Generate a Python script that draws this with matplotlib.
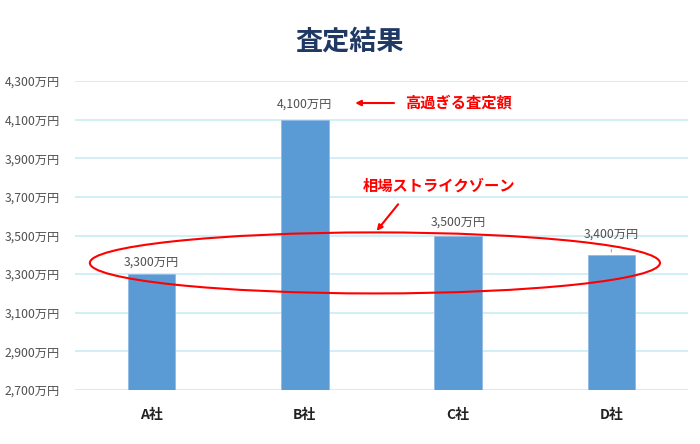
import matplotlib
matplotlib.use("Agg")
import matplotlib.pyplot as plt
from matplotlib.patches import Ellipse

plt.rcParams["font.family"] = ["Noto Sans CJK JP", "DejaVu Sans"]

companies = ["A社", "B社", "C社", "D社"]
values = [3300, 4100, 3500, 3400]
yticks = [2700, 2900, 3100, 3300, 3500, 3700, 3900, 4100, 4300]

BAR = "#5b9bd5"
GRID = "#c9ebf6"
GRAY = "#505050"
RED = "#ff0000"

def yen(v):
    return f"{v:,}万円"

fig = plt.figure(figsize=(7, 4.44), dpi=100)
ax = fig.add_axes([75/700, 1-390/444, 613/700, 309/444])

x = range(len(companies))
ax.bar(x, values, width=0.31, color=BAR, edgecolor="#8fbbe6", lw=0.6, zorder=2)
ax.set_xlim(-0.5, 3.5)
ax.set_ylim(2700, 4300)
ax.set_yticks(yticks)
ax.set_yticklabels([yen(v) for v in yticks], fontsize=8.8, color=GRAY)
ax.set_xticks(list(x))
ax.set_xticklabels(companies, fontsize=10, color="#222222", fontweight="bold")
ax.tick_params(length=0)
ax.tick_params(axis="x", pad=13)
ax.tick_params(axis="y", pad=11)
ax.grid(axis="y", color=GRID, lw=1.2, zorder=0)
for s in ax.spines.values():
    s.set_visible(False)

# data labels
offsets = [8.6, 11.5, 9.4, 15]
for i, v in enumerate(values):
    ax.annotate(yen(v), (i, v), xytext=(0, offsets[i]), textcoords="offset points",
                ha="center", va="center", fontsize=8.8, color=GRAY)
# leader line for D
ax.annotate("", (3, values[3]), xytext=(3, values[3] + 42),
            arrowprops=dict(arrowstyle="-", color="#a6a6a6", lw=0.8))

fig.text(0.5, 1-42/444, "査定結果", ha="center", va="center",
         fontsize=19.5, fontweight="bold", color="#1f3864")

# annotations
ell = Ellipse((1.457, 3358), 3.72, 316, fill=False, edgecolor=RED, lw=1.5,
              zorder=3, clip_on=False)
ax.add_patch(ell)

ax.annotate("", xy=(1.31, 4186), xytext=(1.60, 4186),
            arrowprops=dict(arrowstyle="-|>", color=RED, lw=1.5, mutation_scale=8))
ax.text(1.653, 4186, "高過ぎる査定額", color=RED, fontsize=11, fontweight="bold",
        va="center", ha="left")

ax.annotate("", xy=(1.457, 3513), xytext=(1.62, 3673),
            arrowprops=dict(arrowstyle="-|>", color=RED, lw=1.5, mutation_scale=8))
ax.text(1.38, 3756, "相場ストライクゾーン", color=RED, fontsize=11, fontweight="bold",
        va="center", ha="left")

fig.savefig("out.png", dpi=100)
